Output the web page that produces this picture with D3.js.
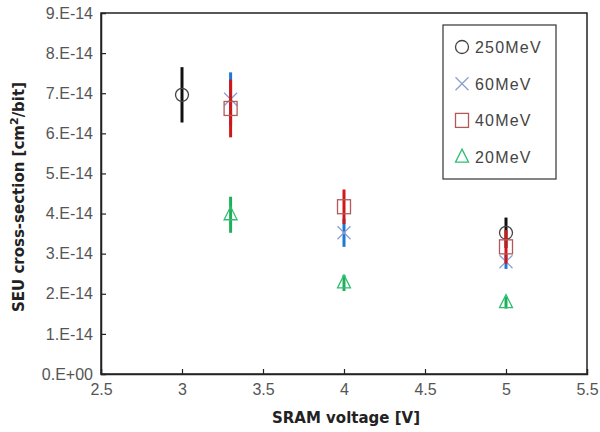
<!DOCTYPE html>
<html>
<head>
<meta charset="utf-8">
<script src="https://cdn.jsdelivr.net/npm/d3@7"></script>
<style>
  body { margin: 0; background: #fff; }
  svg { font-family: "Liberation Sans", Arial, sans-serif; }
</style>
</head>
<body>
<div id="chart"></div>
<script>
// Data (cross-section in units of 1e-14 cm2/bit)
const series = ["250MeV", "60MeV", "40MeV", "20MeV"];
const voltages250 = [3, 5];
const values250 = [6.96, 3.52];
const errors250 = [0.69, 0.38];
const voltages60 = [3.3, 4, 5];
const values60 = [6.85, 3.52, 2.8];
const errors60 = [0.67, 0.35, 0.18];
const voltages40 = [3.3, 4, 5];
const values40 = [6.62, 4.17, 3.17];
const errors40 = [0.72, 0.43, 0.42];
const voltages20 = [3.3, 4, 5];
const values20 = [3.97, 2.27, 1.78];
const errors20 = [0.45, 0.2, 0.15];
const yTicks = [0, 1, 2, 3, 4, 5, 6, 7, 8, 9];
const xTicks = [2.5, 3, 3.5, 4, 4.5, 5, 5.5];

const width = 600, height = 432;
const margin = { top: 13, right: 13, bottom: 58, left: 101 };

const svg = d3.select("#chart").append("svg")
  .attr("width", width)
  .attr("height", height);

const x = d3.scaleLinear().domain([2.5, 5.5]).range([margin.left, width - margin.right]);
const y = d3.scaleLinear().domain([0, 9]).range([height - margin.bottom, margin.top]);

// frame
svg.append("rect")
  .attr("x", x(2.5)).attr("y", y(9))
  .attr("width", x(5.5) - x(2.5)).attr("height", y(0) - y(9))
  .attr("fill", "none").attr("stroke", "#222").attr("stroke-width", 1.5);

const fmtY = v => v === 0 ? "0.E+00" : v + ".E-14";

// axes with inward ticks
const xAxis = svg.append("g")
  .attr("transform", `translate(0,${y(0)})`)
  .call(d3.axisBottom(x).tickValues(xTicks).tickSize(-5).tickPadding(10).tickFormat(d => d));
const yAxis = svg.append("g")
  .attr("transform", `translate(${x(2.5)},0)`)
  .call(d3.axisLeft(y).tickValues(yTicks).tickSize(-5).tickPadding(8).tickFormat(fmtY));

[xAxis, yAxis].forEach(g => {
  g.select(".domain").attr("stroke", "#222").attr("stroke-width", 1.5);
  g.selectAll(".tick line").attr("stroke", "#222").attr("stroke-width", 1.2);
  g.selectAll(".tick text")
    .attr("fill", "#555")
    .style("font-size", "16px")
    .style("font-family", "'Liberation Sans', Arial, sans-serif");
});
xAxis.selectAll(".tick").filter(d => d === 2.5 || d === 5.5).select("line").remove();
yAxis.selectAll(".tick").filter(d => d === 0 || d === 9).select("line").remove();

// axis titles
svg.append("text")
  .attr("x", 346).attr("y", 423)
  .attr("text-anchor", "middle")
  .attr("font-family", "'DejaVu Sans', sans-serif")
  .attr("font-weight", "bold")
  .attr("font-size", 15)
  .attr("fill", "#222")
  .text("SRAM voltage [V]");

const yTitle = svg.append("text")
  .attr("transform", "translate(24,197) rotate(-90)")
  .attr("text-anchor", "middle")
  .attr("font-family", "'DejaVu Sans', sans-serif")
  .attr("font-weight", "bold")
  .attr("font-size", 15)
  .attr("fill", "#222");
yTitle.append("tspan").text("SEU cross-section [cm");
yTitle.append("tspan").attr("dy", -6).attr("font-size", 11).text("2");
yTitle.append("tspan").attr("dy", 6).text("/bit]");

// series styling
const barColor = { "250MeV": "#111111", "60MeV": "#1f78d1", "40MeV": "#d01818", "20MeV": "#1fae5a" };
const markColor = { "250MeV": "#444444", "60MeV": "#8c9fd0", "40MeV": "#b25a5a", "20MeV": "#2fbf73" };

const rows = [
  { name: "250MeV", xs: voltages250, vs: values250, es: errors250 },
  { name: "60MeV", xs: voltages60, vs: values60, es: errors60 },
  { name: "40MeV", xs: voltages40, vs: values40, es: errors40 },
  { name: "20MeV", xs: voltages20, vs: values20, es: errors20 }
];

function drawMarker(g, name, cx, cy) {
  const c = markColor[name];
  if (name === "250MeV") {
    g.append("circle").attr("cx", cx).attr("cy", cy).attr("r", 6.5)
      .attr("fill", "none").attr("stroke", c).attr("stroke-width", 1.3);
  } else if (name === "60MeV") {
    const s = 6.5;
    g.append("path")
      .attr("d", `M${cx - s},${cy - s}L${cx + s},${cy + s}M${cx - s},${cy + s}L${cx + s},${cy - s}`)
      .attr("stroke", c).attr("stroke-width", 1.3).attr("fill", "none");
  } else if (name === "40MeV") {
    g.append("rect").attr("x", cx - 6.5).attr("y", cy - 7).attr("width", 13).attr("height", 14)
      .attr("fill", "none").attr("stroke", c).attr("stroke-width", 1.3);
  } else {
    g.append("path")
      .attr("d", `M${cx},${cy - 8}L${cx + 6.5},${cy + 5}L${cx - 6.5},${cy + 5}Z`)
      .attr("fill", "none").attr("stroke", c).attr("stroke-width", 1.3);
  }
}

rows.forEach(r => {
  const g = svg.append("g");
  r.xs.forEach((v, i) => {
    g.append("line")
      .attr("x1", x(v)).attr("x2", x(v))
      .attr("y1", y(r.vs[i] + r.es[i])).attr("y2", y(r.vs[i] - r.es[i]))
      .attr("stroke", barColor[r.name]).attr("stroke-width", 3);
  });
  r.xs.forEach((v, i) => drawMarker(g, r.name, x(v), y(r.vs[i])));
});

// legend
const legend = svg.append("g");
legend.append("rect")
  .attr("x", 443).attr("y", 25).attr("width", 113).attr("height", 154)
  .attr("fill", "#fff").attr("stroke", "#333").attr("stroke-width", 1.2);
series.forEach((s, i) => {
  const ly = 47 + i * 36.7;
  drawMarker(legend, s, 462, ly);
  legend.append("text")
    .attr("x", 475).attr("y", ly + 6)
    .attr("font-size", 16)
    .attr("letter-spacing", 1.2)
    .attr("fill", "#444")
    .text(s);
});
</script>
</body>
</html>
